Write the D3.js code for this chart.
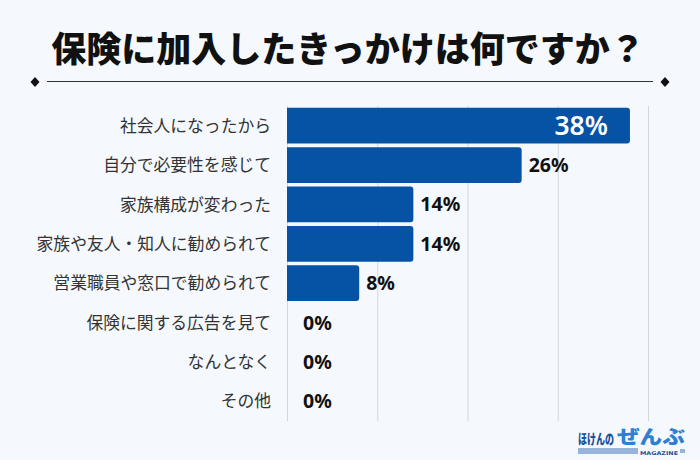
<!DOCTYPE html>
<html><head><meta charset="utf-8">
<script src="https://cdn.jsdelivr.net/npm/d3@7"></script>
<style>
html,body{margin:0;padding:0;background:#f5f9fd;}
svg{display:block;}
</style></head>
<body>
<svg id="c" width="700" height="460"></svg>
<script>
const titleText = "保険に加入したきっかけは何ですか？";
const categories = ["社会人になったから","自分で必要性を感じて","家族構成が変わった","家族や友人・知人に勧められて","営業職員や窓口で勧められて","保険に関する広告を見て","なんとなく","その他"];
const values = [38,26,14,14,8,0,0,0];
const gridTicks = [0,10,20,30,40];

const svg = d3.select("#c");
const W = 700, H = 460;
svg.append("rect").attr("width",W).attr("height",H).attr("fill","#f5f9fd");

const jp = "'Noto Sans CJK JP','Noto Sans',sans-serif";

// title
svg.append("text").attr("x",348).attr("y",62).attr("text-anchor","middle")
  .attr("font-family",jp).attr("font-weight",900).attr("font-size",35).attr("fill","#111")
  .text(titleText);
svg.append("line").attr("x1",47).attr("x2",653).attr("y1",81.5).attr("y2",81.5)
  .attr("stroke","#333").attr("stroke-width",1.2);
[35,665].forEach(cx=>{
  svg.append("path").attr("d",`M${cx},${77} L${cx+4.5},${82} L${cx},${87} L${cx-4.5},${82} Z`).attr("fill","#111");
});

const x = d3.scaleLinear().domain([0,40]).range([287,648]);
const y = d3.scaleBand().domain(categories).range([106,421]).paddingInner(0.09).paddingOuter(0.045);

// gridlines
svg.append("g").selectAll("line").data(gridTicks).join("line")
  .attr("x1",d=>x(d)+0.5).attr("x2",d=>x(d)+0.5).attr("y1",106).attr("y2",421)
  .attr("stroke","#d2d7de").attr("stroke-width",1);

// bars with rounded right corners
const r = 3;
svg.append("g").selectAll("path").data(values.map((v,i)=>({v,c:categories[i]})).filter(d=>d.v>0)).join("path")
  .attr("d",d=>{
    const x0=x(0), x1=x(d.v), y0=y(d.c), h=y.bandwidth();
    return `M${x0},${y0} H${x1-r} Q${x1},${y0} ${x1},${y0+r} V${y0+h-r} Q${x1},${y0+h} ${x1-r},${y0+h} H${x0} Z`;
  })
  .attr("fill","#0652a5");

// category labels
const yAxis = d3.axisLeft(y).tickSize(0).tickPadding(16);
const gy = svg.append("g").attr("transform",`translate(${x(0)},0)`).call(yAxis);
gy.select(".domain").remove();
gy.selectAll("text").attr("font-family",jp).attr("font-size",16.8).attr("fill","#333").attr("dy","0.36em");

// value labels
values.forEach((v,i)=>{
  const cy = y(categories[i]) + y.bandwidth()/2;
  if(i===0){
    svg.append("text").attr("x",x(v)-22).attr("y",cy).attr("dy","0.36em").attr("text-anchor","end")
      .attr("font-family","'Noto Sans',sans-serif").attr("font-weight",600).attr("font-size",26.5).attr("fill","#fff")
      .text(v+"%");
  } else {
    svg.append("text").attr("x",x(v)+(v===0?16:7)).attr("y",cy).attr("dy","0.36em").attr("text-anchor","start")
      .attr("font-family","'Noto Sans',sans-serif").attr("font-weight",700).attr("font-size",19.5).attr("fill","#111")
      .text(v+"%");
  }
});

// logo
const lg = svg.append("g");
lg.append("text").attr("transform","translate(578,444) scale(0.67,1)").attr("font-family",jp).attr("font-weight",900)
  .attr("font-size",13.5).attr("fill","#1d4f9a").text("ほけんの");
lg.append("text").attr("transform","translate(617,443.5) scale(1.19,1)").attr("font-family",jp).attr("font-weight",900)
  .attr("font-size",19).attr("fill","#2c7fd3").text("ぜんぶ");
[449,451,453].forEach(yy=>lg.append("line").attr("x1",578).attr("x2",638).attr("y1",yy).attr("y2",yy).attr("stroke","#3a6fb8").attr("stroke-width",1));
lg.append("text").attr("x",640).attr("y",454.5).attr("font-family","'DejaVu Sans',sans-serif").attr("font-weight",700).attr("font-size",5.2)
  .attr("textLength",38).attr("lengthAdjust","spacingAndGlyphs").attr("fill","#1d4f9a").text("MAGAZINE");
[450,452].forEach(yy=>lg.append("line").attr("x1",680).attr("x2",685).attr("y1",yy).attr("y2",yy).attr("stroke","#3a6fb8").attr("stroke-width",1));
</script>
</body></html>
